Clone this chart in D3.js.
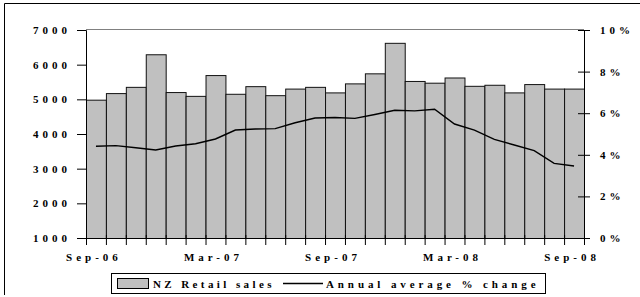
<!DOCTYPE html>
<html>
<head>
<meta charset="utf-8">
<script src="https://cdn.jsdelivr.net/npm/d3@7"></script>
<style>
  body { margin: 0; background: #fff; }
  svg { display: block; }
  text { font-family: "Liberation Serif", "Times New Roman", serif; font-weight: bold; font-size: 11px; fill: #000; }
</style>
</head>
<body>
<svg width="640" height="297"></svg>
<script>
// monthly data, Sep-06 .. Sep-08
const months = ["Sep-06","Oct-06","Nov-06","Dec-06","Jan-07","Feb-07","Mar-07","Apr-07","May-07","Jun-07","Jul-07","Aug-07",
                "Sep-07","Oct-07","Nov-07","Dec-07","Jan-08","Feb-08","Mar-08","Apr-08","May-08","Jun-08","Jul-08","Aug-08","Sep-08"];
const sales = [4990, 5180, 5360, 6300, 5210, 5100, 5700, 5160, 5380, 5120, 5310, 5360,
               5200, 5460, 5750, 6630, 5530, 5480, 5630, 5390, 5420, 5200, 5440, 5310, 5310];
const change = [4.41, 4.44, 4.34, 4.23, 4.42, 4.53, 4.76, 5.19, 5.24, 5.26, 5.54, 5.77,
                5.79, 5.75, 5.94, 6.14, 6.11, 6.19, 5.48, 5.19, 4.74, 4.47, 4.20, 3.59, 3.46];
const labelMonths = ["Sep-06", "Mar-07", "Sep-07", "Mar-08", "Sep-08"];
const leftTicks = [1000, 2000, 3000, 4000, 5000, 6000, 7000];
const rightTicks = [0, 2, 4, 6, 8, 10];

const svg = d3.select("svg");
const ls = 4; // letter spacing

const plotL = 86, plotR = 584, plotT = 30, plotB = 238;

const x = d3.scaleBand().domain(months).range([plotL, plotR]).padding(0);
const xi = d3.scaleLinear().domain([0, months.length]).range([plotL, plotR]);
const y = d3.scaleLinear().domain([1000, 7000]).range([plotB, plotT]);
const y2 = d3.scaleLinear().domain([0, 10]).range([plotB, plotT]);

// outer frame
svg.append("path")
   .attr("d", "M4.5,295 V3.5 H640")
   .attr("fill", "none")
   .attr("stroke", "#000");

// top border of plot area
svg.append("line")
   .attr("x1", plotL).attr("x2", plotR)
   .attr("y1", plotT - 0.5).attr("y2", plotT - 0.5)
   .attr("stroke", "#808080");

// bars
svg.selectAll("rect.bar")
   .data(sales)
   .enter()
   .append("rect")
   .attr("class", "bar")
   .attr("x", (d, i) => x(months[i]) + 0.5)
   .attr("y", d => y(d) + 0.5)
   .attr("width", x.bandwidth())
   .attr("height", d => plotB - y(d))
   .attr("fill", "#c0c0c0")
   .attr("stroke", "#111")
   .attr("stroke-width", 1);

// line
const line = d3.line()
   .x((d, i) => x(months[i]) + x.bandwidth() / 2)
   .y(d => y2(d));

svg.append("path")
   .datum(change)
   .attr("d", line)
   .attr("fill", "none")
   .attr("stroke", "#000")
   .attr("stroke-width", 1.4);

// left axis
const gl = svg.append("g")
   .attr("transform", `translate(${plotL},0)`)
   .call(d3.axisLeft(y).tickValues(leftTicks).tickSize(9).tickPadding(10).tickFormat(d3.format("d")));

// right axis
const gr = svg.append("g")
   .attr("transform", `translate(${plotR},0)`)
   .call(d3.axisRight(y2).tickValues(rightTicks).tickSize(6).tickPadding(10).tickFormat(d => d + "%"));
gr.selectAll(".tick line").attr("x1", -6);

// bottom axis: ticks between categories
const gb = svg.append("g")
   .attr("transform", `translate(0,${plotB})`)
   .call(d3.axisBottom(xi).tickValues(d3.range(months.length + 1)).tickSize(7).tickFormat(""));
gb.selectAll(".tick line").attr("y1", -3);

[gl, gr, gb].forEach(g => {
  g.select(".domain").attr("stroke", "#000");
  g.selectAll(".tick line").attr("stroke", "#000");
  g.selectAll("text")
   .attr("font-family", null).attr("font-size", null)
   .style("letter-spacing", ls + "px");
});
gl.selectAll("text").attr("dx", ls);

// month labels
svg.selectAll("text.month")
   .data(labelMonths)
   .enter()
   .append("text")
   .attr("class", "month")
   .attr("x", d => x(d) + x.bandwidth() / 2 - 2)
   .attr("y", 261)
   .attr("text-anchor", "middle")
   .style("letter-spacing", ls + "px")
   .text(d => d);

// legend
const lg = svg.append("g");
lg.append("rect")
  .attr("x", 111.5).attr("y", 273.5)
  .attr("width", 434).attr("height", 20)
  .attr("fill", "#fff").attr("stroke", "#000");
lg.append("rect")
  .attr("x", 117.5).attr("y", 278.5)
  .attr("width", 31).attr("height", 10)
  .attr("fill", "#c0c0c0").attr("stroke", "#000");
lg.append("text")
  .attr("x", 153).attr("y", 288)
  .style("letter-spacing", "3.4px")
  .text("NZ Retail sales");
lg.append("line")
  .attr("x1", 283).attr("x2", 323)
  .attr("y1", 283.5).attr("y2", 283.5)
  .attr("stroke", "#000").attr("stroke-width", 1.4);
lg.append("text")
  .attr("x", 326).attr("y", 288)
  .style("letter-spacing", "3.9px")
  .text("Annual average % change");
</script>
</body>
</html>
